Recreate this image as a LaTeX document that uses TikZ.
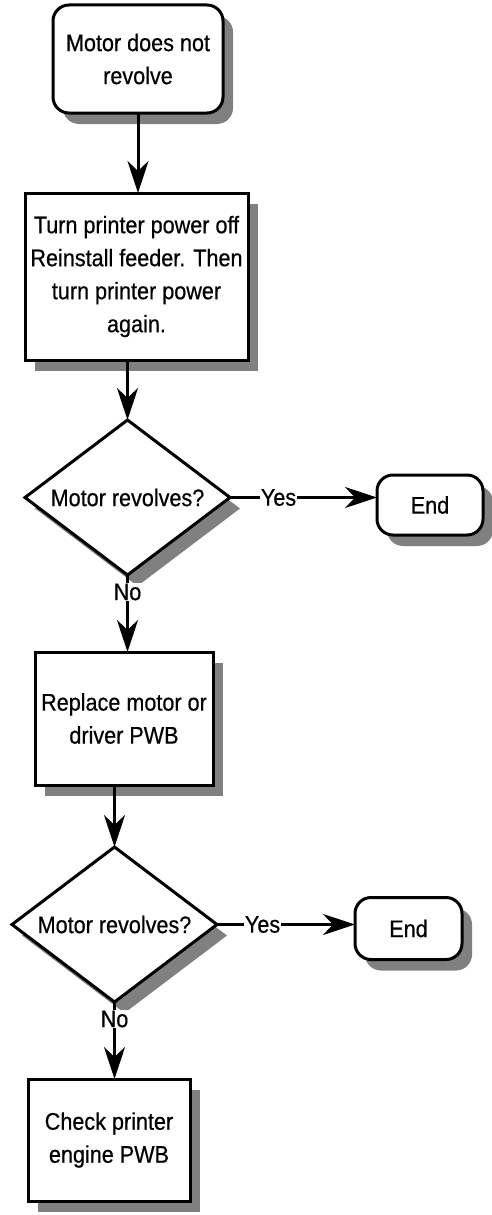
\documentclass[tikz,border=0pt]{standalone}
\usepackage{fontspec}
\setmainfont{Liberation Sans}[FakeStretch=0.9,FakeBold=0.5]
\usetikzlibrary{positioning,arrows.meta,shapes.geometric,shadows}

\begin{document}
\begin{tikzpicture}[
        x=1pt,y=1pt,
        base/.style={draw,line width=3pt,outer sep=0pt,align=center,inner sep=2pt,fill=white,
            font=\fontsize{24}{33}\selectfont,
            drop shadow={shadow xshift=10pt,shadow yshift=-11pt,fill=black!50,opacity=1}},
        term/.style={base,rectangle,rounded corners=16pt},
        proc/.style={base,rectangle},
        decide/.style={base,diamond,aspect=1.3,inner sep=0pt,minimum width=205pt,minimum height=155pt},
        lbl/.style={fill=white,inner sep=1pt,font=\fontsize{24}{28}\selectfont},
        arrow/.style={-{Stealth[length=32pt,width=21pt,inset=10pt]},line width=3pt}]
    \useasboundingbox (0,0) rectangle (491,-1215);
    \node[term,minimum width=170pt,minimum height=108pt] (start) at (138,-59) {Motor does not\\ revolve};
    \node[proc,minimum width=223pt,minimum height=167pt,below=80pt of start,xshift=-1.5pt] (refit) {Turn printer power off\\ Reinstall feeder. Then\\ turn printer power\\ again.};
    \node[decide,below=60pt of refit,xshift=-9pt] (test1) {Motor revolves?};
    \node[term,minimum width=106pt,minimum height=60pt,right=147pt of test1,yshift=-7.5pt] (end1) {End};
    \node[proc,minimum width=178pt,minimum height=133pt,below=77pt of test1,xshift=-3.5pt] (swap) {Replace motor or\\ driver PWB};
    \node[decide,below=62pt of swap,xshift=-9.5pt] (test2) {Motor revolves?};
    \node[term,minimum width=107pt,minimum height=62pt,right=138pt of test2,yshift=-4pt] (end2) {End};
    \node[proc,minimum width=162pt,minimum height=122pt,below=77pt of test2,xshift=-5.5pt] (check) {Check printer\\ engine PWB};
    \draw[arrow] (start.south) -- (start.south |- refit.north);
    \draw[arrow] (test1.north |- refit.south) -- (test1.north);
    \draw[arrow] (test1.east) -- node[lbl,pos=0.33]{Yes} (test1.east -| end1.west);
    \draw[arrow] (test1.south) -- node[lbl,pos=0.22]{No} (test1.south |- swap.north);
    \draw[arrow] (test2.north |- swap.south) -- (test2.north);
    \draw[arrow] (test2.east) -- node[lbl,pos=0.33]{Yes} (test2.east -| end2.west);
    \draw[arrow] (test2.south) -- node[lbl,pos=0.22]{No} (test2.south |- check.north);
\end{tikzpicture}
\end{document}
